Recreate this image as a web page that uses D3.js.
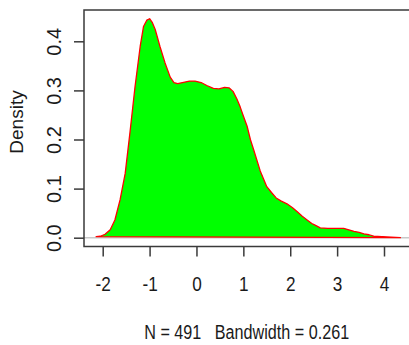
<!DOCTYPE html>
<html><head><meta charset="utf-8">
<script src="https://cdn.jsdelivr.net/npm/d3@7"></script>
<style>html,body{margin:0;padding:0;background:#fff;} svg{display:block;}</style>
</head><body>
<script>
// Density estimate
const densX = [-2.14,-2.05,-1.95,-1.84,-1.74,-1.63,-1.52,-1.42,-1.31,-1.20,-1.13,-1.06,-1.00,-0.94,-0.88,-0.78,-0.67,-0.56,-0.48,-0.40,-0.30,-0.15,-0.03,0.10,0.22,0.36,0.48,0.60,0.70,0.78,0.86,0.93,1.00,1.08,1.15,1.22,1.36,1.50,1.60,1.70,1.80,1.93,2.05,2.15,2.25,2.36,2.46,2.54,2.64,2.80,3.00,3.14,3.25,3.36,3.47,3.57,3.68,3.78,3.95,4.14,4.35];
const densY = [0.002,0.003,0.007,0.016,0.036,0.077,0.131,0.213,0.308,0.390,0.430,0.443,0.446,0.438,0.424,0.390,0.356,0.327,0.316,0.314,0.316,0.319,0.319,0.316,0.310,0.304,0.303,0.306,0.305,0.298,0.283,0.267,0.248,0.227,0.200,0.179,0.136,0.104,0.092,0.081,0.075,0.069,0.061,0.053,0.044,0.036,0.029,0.025,0.020,0.019,0.019,0.019,0.016,0.013,0.011,0.008,0.006,0.003,0.002,0.001,0.0];
const xTicks = [-2,-1,0,1,2,3,4];
const yTicks = [0.0,0.1,0.2,0.3,0.4];
const yTickLabels = ["0.0","0.1","0.2","0.3","0.4"];
const xLabel = "N = 491   Bandwidth = 0.261";
const yLabel = "Density";

const W = 409, H = 345;
const box = {left: 84, top: 10, right: 412, bottom: 246.5};
const x = d3.scaleLinear().domain([-2, 4]).range([102.7, 384]);
const y = d3.scaleLinear().domain([0, 0.4]).range([237.7, 41.3]);

const svg = d3.select("body").append("svg").attr("width", W).attr("height", H);
svg.append("rect").attr("width", W).attr("height", H).attr("fill", "#fff");

svg.append("clipPath").attr("id", "clip").append("rect")
  .attr("x", box.left).attr("y", box.top)
  .attr("width", box.right - box.left).attr("height", box.bottom - box.top);

const plot = svg.append("g").attr("clip-path", "url(#clip)");
// zero line
plot.append("line")
  .attr("x1", box.left).attr("x2", box.right)
  .attr("y1", y(0)).attr("y2", y(0))
  .attr("stroke", "#c8c8c8").attr("stroke-width", 1.5);

const pts = densX.map((d, i) => [x(d), y(densY[i])]);
plot.append("path")
  .attr("d", "M" + pts.map(p => p.join(",")).join("L") + "Z")
  .attr("fill", "#00ff00")
  .attr("stroke", "#ff0000")
  .attr("stroke-width", 1.3)
  .attr("stroke-linejoin", "round");

// box
svg.append("rect")
  .attr("x", box.left).attr("y", box.top)
  .attr("width", box.right - box.left).attr("height", box.bottom - box.top)
  .attr("fill", "none").attr("stroke", "#3a3a3a").attr("stroke-width", 1.5);

const font = "'Liberation Sans', Arial, sans-serif";

// x axis
const gx = svg.append("g").attr("transform", `translate(0,${box.bottom})`)
  .call(d3.axisBottom(x).tickValues(xTicks).tickSize(10).tickFormat(d3.format("d")));
gx.select(".domain").remove();
gx.selectAll(".tick line").attr("stroke", "#3a3a3a").attr("stroke-width", 1.5);
gx.selectAll(".tick text")
  .attr("y", 45).attr("dy", 0)
  .attr("fill", "#1a1a1a")
  .attr("font-family", font).attr("font-size", 20)
  .attr("transform", "scale(0.86,1)")
  .text(d => d < 0 ? "-" + Math.abs(d) : String(d));

// y axis
const gy = svg.append("g").attr("transform", `translate(${box.left},0)`)
  .call(d3.axisLeft(y).tickValues(yTicks).tickSize(10).tickFormat((d, i) => yTickLabels[i]));
gy.select(".domain").remove();
gy.selectAll(".tick line").attr("stroke", "#3a3a3a").attr("stroke-width", 1.5);
gy.selectAll(".tick text")
  .attr("x", 0).attr("y", 0).attr("dy", 0)
  .attr("text-anchor", "middle")
  .attr("fill", "#1a1a1a")
  .attr("font-family", font).attr("font-size", 20)
  .attr("transform", "translate(-23,0) rotate(-90)");

// axis titles
svg.append("text")
  .attr("transform", "translate(246.7,339) scale(0.77,1)")
  .attr("text-anchor", "middle")
  .attr("font-family", font).attr("font-size", 21)
  .attr("fill", "#1a1a1a")
  .attr("xml:space", "preserve")
  .style("white-space", "pre")
  .text(xLabel);

svg.append("text")
  .attr("transform", "translate(23,122) rotate(-90)")
  .attr("text-anchor", "middle")
  .attr("font-family", font).attr("font-size", 19)
  .attr("fill", "#1a1a1a")
  .text(yLabel);
</script>
</body></html>
